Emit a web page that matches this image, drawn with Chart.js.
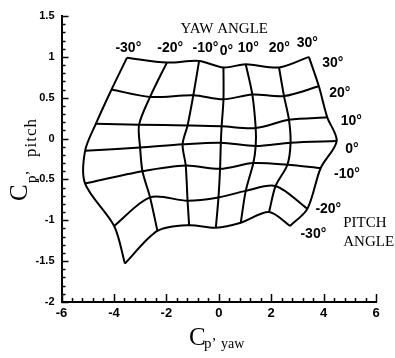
<!DOCTYPE html>
<html>
<head>
<meta charset="utf-8">
<script src="https://cdn.jsdelivr.net/npm/chart.js@4.4.1/dist/chart.umd.min.js"></script>
<style>
  html, body { margin: 0; padding: 0; background: #fff; }
  #wrap { width: 395px; height: 358px; }
</style>
</head>
<body>
<div id="wrap"><canvas id="chart" width="395" height="358"></canvas></div>
<script>
// Angles of the calibration grid
const yawAngles = [-30, -20, -10, 0, 10, 20, 30];
const pitchAngles = [30, 20, 10, 0, -10, -20, -30];

// Cp,yaw at each node: one row per pitch angle, columns follow yawAngles
const cpYaw = [
  [-3.50, -1.98, -0.75,  0.18, 1.03, 2.30, 3.44],
  [-4.09, -2.62, -0.97,  0.18, 1.28, 2.49, 3.82],
  [-4.69, -3.04, -1.19,  0.11, 1.41, 2.68, 4.14],
  [-5.10, -3.00, -1.38,  0.08, 1.41, 2.74, 4.50],
  [-5.10, -2.91, -1.26,  0.05, 1.32, 2.62, 3.89],
  [-3.99, -2.62, -1.19, -0.01, 1.03, 2.17, 3.38],
  [-3.58, -2.34, -1.13, -0.11, 0.84, 1.92, 2.72]
];

// Cp,pitch at each node, same layout as cpYaw
const cpPitch = [
  [ 0.99,  0.93,  0.95,  0.87,  0.91,  0.87,  1.00],
  [ 0.60,  0.51,  0.53,  0.48,  0.54,  0.52,  0.64],
  [ 0.18,  0.17,  0.16,  0.15,  0.13,  0.23,  0.26],
  [-0.15, -0.11, -0.07, -0.05, -0.09, -0.05, -0.03],
  [-0.55, -0.40, -0.33, -0.37, -0.30, -0.32, -0.36],
  [-1.07, -0.72, -0.76, -0.72, -0.64, -0.58, -0.86],
  [-1.53, -1.13, -1.06, -1.09, -1.03, -0.90, -1.07]
];

// axis ticks
const xTicks = [-6, -4, -2, 0, 2, 4, 6];
const yTicks = [-2, -1.5, -1, -0.5, 0, 0.5, 1, 1.5];

// where the angle labels sit, in axis units
const yawLabelPos = [[-3.45, 1.064], [-1.85, 1.064], [-0.51, 1.064], [0.29, 1.023], [1.13, 1.064], [2.31, 1.064], [3.38, 1.125]];
const pitchLabelPos = [[4.35, 0.88], [4.62, 0.513], [5.06, 0.166], [5.08, -0.18], [4.89, -0.486], [4.18, -0.914], [3.61, -1.22]];

const serif = "'Liberation Serif', 'Times New Roman', serif";
const sans = "'Liberation Sans', Arial, sans-serif";
const narrow = "'Liberation Sans Narrow', 'Liberation Sans', Arial, sans-serif";

function lineStyle(points) {
  return {
    data: points,
    showLine: true,
    borderColor: '#000',
    borderWidth: 2,
    pointRadius: 0,
    tension: 0.3,
    fill: false
  };
}

const datasets = [];
// constant pitch lines
pitchAngles.forEach((p, i) => {
  datasets.push(lineStyle(yawAngles.map((y, j) => ({ x: cpYaw[i][j], y: cpPitch[i][j] }))));
});
// constant yaw lines
yawAngles.forEach((y, j) => {
  datasets.push(lineStyle(pitchAngles.map((p, i) => ({ x: cpYaw[i][j], y: cpPitch[i][j] }))));
});

// white page
const background = {
  id: 'background',
  beforeDraw(chart) {
    const ctx = chart.ctx;
    ctx.save();
    ctx.fillStyle = '#fff';
    ctx.fillRect(0, 0, chart.width, chart.height);
    ctx.restore();
  }
};

// inward major and minor tick marks
const tickMarks = {
  id: 'tickMarks',
  afterDraw(chart) {
    const ctx = chart.ctx;
    const xs = chart.scales.x, ys = chart.scales.y;
    const area = chart.chartArea;
    ctx.save();
    ctx.strokeStyle = '#000';
    ctx.lineWidth = 1.5;
    ctx.beginPath();
    for (let i = 0; i <= 30; i++) {
      const v = -6 + i * 0.4;
      const px = Math.round(xs.getPixelForValue(v)) + 0.5;
      const len = i % 5 === 0 ? 8 : 4;
      ctx.moveTo(px, area.bottom);
      ctx.lineTo(px, area.bottom - len);
    }
    for (let i = 0; i <= 35; i++) {
      const v = -2 + i * 0.1;
      const py = Math.round(ys.getPixelForValue(v)) + 0.5;
      const len = i % 5 === 0 ? 7 : 4;
      ctx.moveTo(area.left, py);
      ctx.lineTo(area.left + len, py);
    }
    ctx.stroke();
    ctx.restore();
  }
};

// axis titles with subscripts, angle labels
const labels = {
  id: 'labels',
  afterDraw(chart) {
    const ctx = chart.ctx;
    const xs = chart.scales.x, ys = chart.scales.y;
    ctx.save();
    ctx.fillStyle = '#000';
    ctx.textBaseline = 'alphabetic';

    // x title
    ctx.textAlign = 'left';
    ctx.font = '25px ' + serif;
    ctx.fillText('C', 189, 345);
    ctx.font = '15px ' + serif;
    ctx.fillText('p’', 204, 348);
    ctx.font = '14px ' + serif;
    ctx.fillText('yaw', 221, 348);

    // y title, rotated
    ctx.save();
    ctx.translate(27, 201);
    ctx.rotate(-Math.PI / 2);
    ctx.font = '25px ' + serif;
    ctx.fillText('C', 0, 0);
    ctx.font = '15px ' + serif;
    ctx.fillText('p’', 18, 9);
    ctx.font = '17px ' + serif;
    ctx.letterSpacing = '1px';
    ctx.fillText('pitch', 44, 9);
    ctx.restore();

    // yaw angles along the top
    ctx.textAlign = 'center';
    ctx.font = 'bold 14px ' + sans;
    yawAngles.forEach((a, j) => {
      const [vx, vy] = yawLabelPos[j];
      ctx.fillText(a + '°', xs.getPixelForValue(vx), ys.getPixelForValue(vy));
    });
    // pitch angles on the right
    pitchAngles.forEach((a, i) => {
      const [vx, vy] = pitchLabelPos[i];
      ctx.fillText(a + '°', xs.getPixelForValue(vx), ys.getPixelForValue(vy));
    });

    ctx.font = '15px ' + serif;
    ctx.fillText('YAW ANGLE', xs.getPixelForValue(0.21), ys.getPixelForValue(1.29));
    ctx.textAlign = 'left';
    ctx.fillText('PITCH', xs.getPixelForValue(4.75), ys.getPixelForValue(-1.08));
    ctx.fillText('ANGLE', xs.getPixelForValue(4.75), ys.getPixelForValue(-1.31));
    ctx.restore();
  }
};

new Chart(document.getElementById('chart'), {
  type: 'scatter',
  data: { datasets: datasets },
  plugins: [background, tickMarks, labels],
  options: {
    responsive: false,
    animation: false,
    layout: { padding: { left: 0, right: 19, top: 16, bottom: 0 } },
    plugins: { legend: { display: false }, tooltip: { enabled: false } },
    scales: {
      x: {
        type: 'linear',
        min: -6,
        max: 6,
        afterBuildTicks: s => { s.ticks = xTicks.map(v => ({ value: v })); },
        afterFit: s => { s.height = 56; },
        grid: { display: false, drawTicks: false },
        border: { display: true, color: '#000', width: 2 },
        ticks: { color: '#000', padding: 4, callback: v => String(v), font: { family: narrow, size: 13, weight: 'bold' } }
      },
      y: {
        type: 'linear',
        min: -2,
        max: 1.5,
        afterBuildTicks: s => { s.ticks = yTicks.map(v => ({ value: v })); },
        afterFit: s => { s.width = 61.5; },
        grid: { display: false, drawTicks: false },
        border: { display: true, color: '#000', width: 2 },
        ticks: { color: '#000', padding: 7, callback: v => String(v), font: { family: sans, size: 11, weight: 'bold' } }
      }
    }
  }
});
</script>
</body>
</html>
